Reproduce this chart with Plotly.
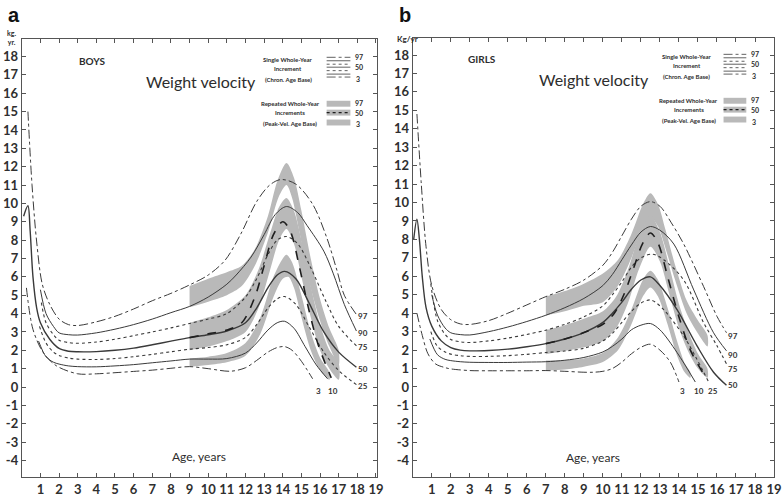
import plotly.graph_objects as go

# ---- Boys: single whole-year increments, chronological age base (age, kg/yr)
boys_p97 = [(0.33, 15.0), (0.55, 11.0), (0.8, 7.9), (1.1, 5.6), (1.5, 4.5), (2.0, 3.7), (2.5, 3.4), (3.0, 3.35),
            (4, 3.55), (5, 3.85), (6, 4.25), (7, 4.7), (8, 5.1), (9, 5.56), (10, 6.1), (10.9, 6.9), (11.75, 8.34),
            (12.6, 10.1), (13.3, 11.0), (13.9, 11.3), (14.7, 11.05), (15.6, 9.96), (16.35, 8.16), (16.9, 6.37),
            (17.3, 5.0), (17.95, 3.95)]
boys_p90 = [(1.0, 5.3), (1.3, 4.0), (1.7, 3.3), (2.0, 2.95), (2.5, 2.85), (3, 2.83), (4, 2.95), (5, 3.15), (6, 3.4),
            (7, 3.7), (8, 4.05), (9, 4.39), (10, 4.9), (11, 5.6), (11.5, 6.1), (12.3, 7.08), (13, 8.3), (13.6, 9.4),
            (14.2, 9.83), (14.8, 9.5), (15.3, 8.8), (16.2, 7.4), (16.7, 6.2), (17.3, 4.5), (17.95, 3.05)]
boys_p75 = [(1.05, 4.6), (1.3, 3.5), (1.7, 2.85), (2.0, 2.55), (2.5, 2.42), (3, 2.38), (4, 2.45), (5, 2.6), (6, 2.8),
            (7, 3.0), (8, 3.22), (9, 3.46), (10, 3.7), (11, 4.0), (12, 4.9), (12.6, 5.9), (13.2, 7.2), (13.7, 8.0),
            (14.2, 8.2), (14.8, 7.8), (15.5, 6.5), (16.3, 4.7), (17.0, 3.3), (17.95, 2.24)]
boys_p50 = [(0.1, 9.3), (0.33, 9.87), (0.45, 8.5), (0.6, 6.0), (0.8, 4.3), (1.0, 3.5), (1.5, 2.6), (2.0, 2.1),
            (2.5, 1.95), (3, 1.92), (4, 1.93), (5, 2.0), (6, 2.12), (7, 2.3), (8, 2.5), (9, 2.69), (10, 2.85),
            (11, 3.05), (12, 3.5), (12.6, 4.3), (13.2, 5.4), (13.7, 6.1), (14.1, 6.3), (14.7, 5.9), (15.4, 4.6),
            (16.2, 3.0), (17.0, 1.9), (17.95, 1.08)]
boys_p25 = [(0.95, 3.3), (1.3, 2.4), (1.7, 1.9), (2.0, 1.72), (2.5, 1.58), (3, 1.52), (4, 1.5), (5, 1.55), (6, 1.65),
            (7, 1.78), (8, 1.92), (9, 2.06), (10, 2.15), (11, 2.3), (12, 2.7), (12.6, 3.4), (13.2, 4.3), (13.7, 4.8),
            (14.1, 4.93), (14.7, 4.5), (15.4, 3.3), (16.2, 1.9), (17.0, 0.9), (17.95, 0.13)]
boys_p10 = [(0.9, 2.5), (1.3, 1.65), (1.7, 1.35), (2.0, 1.25), (2.5, 1.15), (3, 1.11), (4, 1.1), (5, 1.15),
            (6, 1.22), (7, 1.32), (8, 1.42), (9, 1.52), (10, 1.52), (11, 1.55), (12, 1.85), (12.6, 2.4), (13.2, 3.1),
            (13.7, 3.5), (14.1, 3.58), (14.6, 3.2), (15.2, 2.2), (15.8, 1.2), (16.4, 0.45)]
boys_p3 = [(0.25, 5.4), (0.6, 3.14), (1.15, 1.88), (1.85, 1.16), (3, 0.72), (4, 0.72), (5, 0.78), (6, 0.85),
           (7, 0.92), (8, 1.02), (9, 1.11), (10, 1.0), (11.2, 0.86), (12, 1.05), (12.6, 1.45), (13.2, 1.9),
           (13.7, 2.15), (14.1, 2.2), (14.5, 2.0), (15.0, 1.4), (15.6, 0.45)]

# ---- Boys: repeated whole-year increments, peak-velocity age base
boys_pv50 = [(9, 2.69), (10, 2.9), (11, 3.1), (11.8, 3.5), (12.5, 4.9), (13.0, 6.6), (13.5, 8.3), (14.0, 9.0),
             (14.4, 8.5), (14.9, 6.5), (15.4, 4.2), (15.9, 2.3), (16.6, 0.5)]
boys_band97_hi = [(9, 5.5), (10, 5.9), (11, 6.25), (11.8, 6.6), (12.5, 7.5), (13.2, 9.3), (13.7, 11.2), (14.2, 12.2),
                  (14.6, 11.4), (15.0, 9.6), (15.5, 7.0), (16.0, 4.8), (16.5, 3.2), (17.0, 2.0)]
boys_band97_lo = [(9, 4.35), (10, 4.65), (11, 5.0), (11.8, 5.5), (12.5, 6.6), (13.2, 8.4), (13.8, 10.4), (14.2, 11.0),
                  (14.5, 10.3), (14.9, 8.4), (15.4, 5.8), (16.0, 3.6), (16.5, 2.2), (17.0, 1.2)]
boys_band50_hi = [(9, 3.5), (10, 3.8), (11, 4.2), (12, 5.0), (12.7, 6.4), (13.3, 8.3), (13.8, 9.8), (14.2, 10.3),
                  (14.6, 9.6), (15.0, 8.0), (15.5, 5.5), (16.0, 3.4), (16.5, 2.0), (17.0, 1.3)]
boys_band50_lo = [(9, 2.0), (10, 2.2), (11, 2.5), (12, 3.0), (12.7, 4.3), (13.3, 6.3), (13.8, 8.0), (14.2, 8.6),
                  (14.6, 7.8), (15.0, 6.0), (15.5, 3.8), (16.0, 2.0), (16.5, 1.0), (17.0, 0.4)]
boys_band3_hi = [(9, 1.55), (10, 1.65), (11, 1.85), (12, 2.4), (12.8, 3.8), (13.5, 6.0), (14.0, 7.0), (14.2, 7.2),
                 (14.5, 6.8), (15.0, 5.0), (15.5, 3.0), (16.0, 1.6), (16.5, 0.8)]
boys_band3_lo = [(9, 1.1), (10, 1.2), (11, 1.35), (12, 1.7), (12.8, 2.9), (13.5, 4.9), (14.0, 5.9), (14.3, 6.0),
                 (14.6, 5.4), (15.0, 3.8), (15.5, 2.0), (16.0, 0.9), (16.5, 0.4)]

# ---- Girls: single whole-year increments, chronological age base
girls_p97 = [(0.22, 14.8), (0.45, 11.0), (0.7, 7.6), (1.0, 5.5), (1.5, 4.2), (2.0, 3.65), (2.5, 3.42), (3, 3.39),
             (4, 3.6), (5, 4.0), (6, 4.45), (7, 4.9), (8, 5.3), (9, 5.8), (10, 6.6), (10.5, 7.3), (11, 8.2),
             (11.5, 9.1), (12, 9.8), (12.5, 10.05), (13, 9.8), (13.6, 8.9), (14.25, 7.75), (15.3, 5.44), (16, 3.83),
             (16.5, 2.94)]
girls_p90 = [(1.0, 5.0), (1.3, 3.9), (1.7, 3.2), (2, 2.94), (2.5, 2.84), (3, 2.82), (4, 3.0), (5, 3.25), (6, 3.55),
             (7, 3.89), (8, 4.3), (9, 4.8), (10, 5.5), (10.5, 6.1), (11, 6.9), (11.5, 7.7), (12, 8.4), (12.5, 8.7),
             (13, 8.5), (13.73, 7.75), (14.78, 5.26), (15.82, 2.94), (16.5, 1.96)]
girls_p75 = [(0.95, 5.6), (1.3, 3.6), (1.7, 2.85), (2, 2.58), (2.5, 2.45), (3, 2.41), (4, 2.5), (5, 2.65), (6, 2.85),
             (7, 3.08), (8, 3.4), (9, 3.8), (10, 4.4), (10.5, 5.0), (11, 5.7), (11.5, 6.5), (12, 7.0), (12.6, 7.2),
             (13.2, 6.9), (14.25, 5.8), (15.3, 3.48), (16, 2.23), (16.5, 1.25)]
girls_p50 = [(0.05, 8.0), (0.22, 9.1), (0.35, 8.0), (0.5, 6.0), (0.7, 4.3), (1.0, 3.3), (1.5, 2.5), (2, 2.14),
             (2.5, 2.0), (3, 1.96), (4, 1.98), (5, 2.05), (6, 2.18), (7, 2.35), (8, 2.6), (9, 2.95), (10, 3.5),
             (10.5, 4.0), (11, 4.6), (11.5, 5.3), (12, 5.8), (12.5, 5.97), (13, 5.5), (13.9, 4.19), (14.95, 2.23),
             (15.82, 0.8), (16.5, 0.09)]
girls_p25 = [(0.95, 3.0), (1.3, 2.2), (1.7, 1.9), (2, 1.78), (2.5, 1.7), (3, 1.66), (4, 1.66), (5, 1.7), (6, 1.77),
             (7, 1.87), (8, 1.95), (9, 2.1), (10, 2.5), (10.5, 2.9), (11, 3.5), (11.5, 4.1), (12, 4.55), (12.5, 4.72),
             (13, 4.4), (14.25, 2.76), (15.56, 0.27)]
girls_p10 = [(0.9, 2.6), (1.3, 1.75), (1.7, 1.5), (2, 1.43), (2.5, 1.37), (3, 1.34), (4, 1.33), (5, 1.33), (6, 1.35),
             (7, 1.37), (8, 1.45), (9, 1.6), (10, 1.9), (10.5, 2.2), (11, 2.6), (11.5, 3.1), (12, 3.35), (12.5, 3.44),
             (13, 3.1), (13.9, 1.87), (14.86, 0.27)]
girls_p3 = [(0.22, 4.0), (0.5, 2.8), (0.8, 1.8), (1.2, 1.25), (1.7, 1.05), (2, 0.98), (3, 0.89), (4, 0.88),
            (5, 0.88), (6, 0.88), (7, 0.89), (8, 0.85), (9, 0.8), (9.5, 0.8), (10, 0.85), (10.5, 1.0), (11, 1.35),
            (11.5, 1.8), (12, 2.15), (12.5, 2.32), (13, 2.0), (13.55, 1.34), (14, 0.27)]

# ---- Girls: repeated whole-year increments, peak-velocity age base
girls_pv50 = [(7, 2.35), (8, 2.6), (9, 2.95), (10, 3.4), (10.6, 4.0), (11.1, 5.0), (11.6, 6.4), (12.1, 7.8),
              (12.5, 8.35), (12.9, 7.8), (13.4, 6.0), (14.0, 3.8), (14.6, 2.0), (15.4, 0.53)]
girls_band97_hi = [(7, 4.9), (8, 5.2), (9, 5.6), (10, 6.15), (10.8, 6.9), (11.5, 8.3), (12.1, 9.9), (12.5, 10.5),
                   (12.9, 9.9), (13.3, 8.5), (13.8, 6.6), (14.4, 4.7), (15, 3.6), (15.5, 2.8)]
girls_band97_lo = [(7, 3.87), (8, 4.1), (9, 4.4), (10, 4.6), (10.8, 5.5), (11.5, 7.0), (12.1, 8.6), (12.5, 9.2),
                   (12.9, 8.7), (13.3, 7.5), (13.8, 5.8), (14.4, 4.0), (15, 2.9), (15.5, 2.2)]
girls_band50_hi = [(7, 3.08), (8, 3.35), (9, 3.7), (10, 4.1), (10.7, 4.9), (11.3, 6.3), (11.9, 8.2), (12.5, 9.3),
                   (13.0, 8.4), (13.5, 6.5), (14, 4.5), (14.5, 3.0), (15, 1.8), (15.5, 1.0)]
girls_band50_lo = [(7, 1.78), (8, 1.95), (9, 2.15), (10, 2.5), (10.7, 3.2), (11.3, 4.5), (11.9, 6.4), (12.5, 7.6),
                   (13.0, 6.8), (13.5, 5.0), (14, 3.2), (14.5, 1.9), (15, 1.0), (15.5, 0.5)]
girls_band3_hi = [(7, 1.43), (8, 1.45), (9, 1.55), (10, 1.85), (10.8, 2.7), (11.5, 4.2), (12.1, 5.8), (12.5, 6.3),
                  (12.9, 5.8), (13.4, 4.3), (13.9, 2.5), (14.3, 1.3), (14.6, 0.8)]
girls_band3_lo = [(7, 0.89), (8, 0.95), (9, 1.1), (10, 1.35), (10.8, 2.0), (11.5, 3.4), (12.1, 4.9), (12.5, 5.4),
                  (12.9, 4.9), (13.4, 3.4), (13.9, 1.7), (14.3, 0.8), (14.6, 0.5)]

# ---- End-of-curve percentile labels (text, age, kg/yr)
boys_end_labels = [("97", 18.3, 3.85), ("90", 18.3, 2.95), ("75", 18.3, 2.2), ("50", 18.3, 1.0),
                   ("25", 18.3, 0.05), ("10", 16.7, -0.2), ("3", 15.9, -0.2)]
girls_end_labels = [("97", 16.85, 2.75), ("90", 16.85, 1.75), ("75", 16.85, 1.0), ("50", 16.85, 0.1),
                    ("3", 14.2, -0.2), ("10", 15.05, -0.2), ("25", 15.8, -0.2)]

x_ticks = list(range(1, 20))
y_ticks = list(range(-4, 19))

W, H = 784, 497
LINE = "#3a3a3a"
BAND = "#b9b9b9"
FONT = "Lato"

STYLE = {"97": ("dashdot", 1.0), "90": ("solid", 1.0), "75": ("dot", 1.1), "50": ("solid", 1.4),
         "25": ("dot", 1.1), "10": ("solid", 1.0), "3": ("dashdot", 1.0)}


def px(x, y):
    """Pixel position in the page -> paper coordinates."""
    return x / W, 1 - y / H


fig = go.Figure()


def add_band(hi, lo, xa, ya):
    xs = [p[0] for p in hi] + [p[0] for p in reversed(lo)]
    ys = [p[1] for p in hi] + [p[1] for p in reversed(lo)]
    fig.add_trace(go.Scatter(x=xs, y=ys, fill="toself", fillcolor=BAND, mode="lines",
                             line=dict(width=0, shape="spline", smoothing=0.8),
                             xaxis=xa, yaxis=ya, hoverinfo="skip", showlegend=False))


def add_curve(pts, dash, width, xa, ya, color=LINE):
    fig.add_trace(go.Scatter(x=[p[0] for p in pts], y=[p[1] for p in pts], mode="lines",
                             line=dict(color=color, width=width, dash=dash, shape="spline", smoothing=0.9),
                             xaxis=xa, yaxis=ya, hoverinfo="skip", showlegend=False))


panels = [
    ("x", "y", [(boys_band97_hi, boys_band97_lo), (boys_band50_hi, boys_band50_lo), (boys_band3_hi, boys_band3_lo)],
     {"97": boys_p97, "90": boys_p90, "75": boys_p75, "50": boys_p50, "25": boys_p25, "10": boys_p10, "3": boys_p3},
     boys_pv50, boys_end_labels),
    ("x2", "y2", [(girls_band97_hi, girls_band97_lo), (girls_band50_hi, girls_band50_lo),
                  (girls_band3_hi, girls_band3_lo)],
     {"97": girls_p97, "90": girls_p90, "75": girls_p75, "50": girls_p50, "25": girls_p25, "10": girls_p10,
      "3": girls_p3},
     girls_pv50, girls_end_labels),
]

annotations = []
for xa, ya, bands, curves, pv, ends in panels:
    for hi, lo in bands:
        add_band(hi, lo, xa, ya)
    for key, pts in curves.items():
        dash, w = STYLE[key]
        add_curve(pts, dash, w, xa, ya)
    add_curve(pv, "dash", 1.6, xa, ya, color="#1e1e1e")
    for text, ax_, ay_ in ends:
        annotations.append(dict(text=text, x=ax_, y=ay_, xref=xa, yref=ya, showarrow=False,
                                font=dict(family=FONT, size=8, color="#333", weight="bold")))


# ---- text placed in page pixels
def note(text, x, y, size, weight="bold", anchor="center", family=FONT, color="#2d2d2d"):
    X, Y = px(x, y)
    annotations.append(dict(text=text, x=X, y=Y, xref="paper", yref="paper", showarrow=False,
                            xanchor=anchor, yanchor="middle",
                            font=dict(family=family, size=size, color=color, weight=weight)))


note("a", 14, 15, 20, family="Liberation Sans", color="#111")
note("b", 409, 15, 20, family="Liberation Sans", color="#111")
note("kg.<br>yr.", 12, 38, 7)
note("Kg/yr", 412, 39, 8)
note("BOYS", 93, 62, 10)
note("GIRLS", 487, 60, 10)
note("Weight velocity", 203, 83, 16, weight="normal")
note("Weight velocity", 600, 80, 16, weight="normal")
note("Age, years", 201, 462, 12, weight="normal")
note("Age, years", 599, 463, 12, weight="normal")

# legend blocks: text, line samples and grey samples
shapes = []
for x0, y0, lx0, lx1 in [(291, 60, 330, 354), (694, 57, 731, 754)]:
    note("Single Whole-Year", x0, y0, 6)
    note("Increment", x0, y0 + 9, 6)
    note("(Chron. Age Base)", x0, y0 + 20, 6)
    rows = [("97", 0), ("90", 3.5), ("75", 7), ("50", 10), ("25", 13.5), ("10", 17), ("3", 20)]
    for key, dy in rows:
        dash, w = STYLE[key]
        X0, Y0 = px(lx0, y0 - 2 + dy)
        X1, _ = px(lx1, y0 - 2 + dy)
        shapes.append(dict(type="line", xref="paper", yref="paper", x0=X0, x1=X1, y0=Y0, y1=Y0,
                           line=dict(color=LINE, width=0.8, dash=dash)))
    note("97", lx1 + 3, y0 - 2, 7, anchor="left")
    note("50", lx1 + 3, y0 + 8, 7, anchor="left")
    note("3", lx1 + 4, y0 + 20, 7, anchor="left")

    y1 = y0 + 45
    note("Repeated Whole-Year", x0 + 2, y1, 6)
    note("Increments", x0 + 2, y1 + 9, 6)
    note("(Peak-Vel. Age Base)", x0 + 2, y1 + 20, 6)
    for dy in (0, 9, 19):
        X0, Y0 = px(lx0, y1 - 3 + dy)
        X1, Y1 = px(lx1, y1 + 3 + dy)
        shapes.append(dict(type="rect", xref="paper", yref="paper", x0=X0, x1=X1, y0=Y0, y1=Y1,
                           fillcolor=BAND, line=dict(width=0)))
    X0, Y0 = px(lx0, y1 + 9)
    X1, _ = px(lx1, y1 + 9)
    shapes.append(dict(type="line", xref="paper", yref="paper", x0=X0, x1=X1, y0=Y0, y1=Y0,
                       line=dict(color="#1e1e1e", width=1.2, dash="dot")))
    note("97", lx1 + 3, y1 - 1, 7, anchor="left")
    note("50", lx1 + 3, y1 + 9, 7, anchor="left")
    note("3", lx1 + 4, y1 + 21, 7, anchor="left")

tickfont = dict(family=FONT, size=13, color="#2f2f2f", weight="bold")
common_x = dict(tickvals=x_ticks, ticktext=[str(v) for v in x_ticks], ticks="inside", ticklen=4, tickwidth=1,
                tickcolor="#555", showline=True, linecolor="#555", linewidth=1, mirror="ticks",
                showgrid=False, zeroline=False, tickfont=tickfont, fixedrange=True)
common_y = dict(tickvals=y_ticks, ticktext=[str(v) for v in y_ticks], ticks="inside", ticklen=4, tickwidth=1,
                tickcolor="#555", showline=True, linecolor="#555", linewidth=1, mirror="ticks",
                showgrid=False, zeroline=False, tickfont=tickfont, fixedrange=True)

fig.update_layout(
    width=W, height=H, margin=dict(l=0, r=0, t=0, b=0),
    paper_bgcolor="white", plot_bgcolor="white",
    xaxis=dict(common_x, domain=[22 / W, 381 / W], range=[0, 19.06], anchor="y"),
    yaxis=dict(common_y, domain=[14 / H, 458 / H], range=[-4.91, 18.98], anchor="x"),
    xaxis2=dict(common_x, domain=[417 / W, 782 / W], range=[0, 19.0], anchor="y2"),
    yaxis2=dict(common_y, domain=[14 / H, 458.5 / H], range=[-4.89, 18.92], anchor="x2"),
    annotations=annotations, shapes=shapes, showlegend=False,
)

fig.write_html("out.html")
